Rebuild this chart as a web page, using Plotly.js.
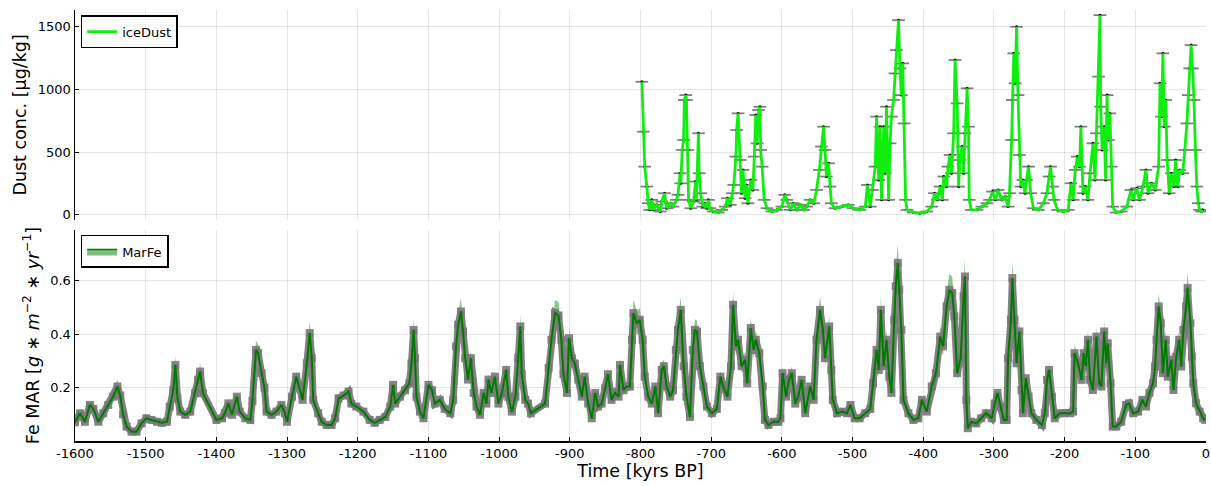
<!DOCTYPE html>
<html>
<head>
<meta charset="utf-8">
<script src="https://cdn.plot.ly/plotly-3.0.1.min.js"></script>
<style>html,body{margin:0;padding:0;background:#fff;}#chart{width:1211px;height:486px;}</style>
</head>
<body>
<div id="chart"></div>
<script>
// ---- iceDust (top panel) ----
const dustAge = [
-798,-796,-794,-791,-789,-787,-784,-782,-777,-772,-770,-766,-763,-758,-754,-749,-747,-744,-743,-741,
-739,-738,-736,-735,-733,-732,-729,-725,-722,-721,-718,-717,-715,-712,-709,-706,-704,-702,-697,-690,
-685,-680,-677,-673,-670,-668,-665,-664,-662,-659,-657,-655,-652,-650,-648,-644,-641,-639,-637,-635,
-633,-631,-630,-628,-625,-621,-614,-607,-600,-596,-593,-588,-584,-579,-574,-569,-565,-560,-555,-551,
-547,-544,-541,-539,-537,-534,-532,-530,-525,-515,-506,-499,-490,-482,-479,-475,-472,-468,-466,-463,
-461,-459,-456,-454,-452,-449,-447,-445,-442,-440,-438,-435,-433,-431,-429,-427,-425,-423,-414,-405,
-395,-388,-384,-380,-376,-373,-371,-367,-365,-362,-360,-357,-355,-352,-350,-348,-345,-343,-341,-338,
-336,-335,-332,-324,-317,-310,-306,-302,-298,-294,-289,-284,-280,-278,-275,-274,-272,-270,-268,-266,
-264,-262,-259,-256,-254,-251,-248,-244,-237,-230,-225,-222,-220,-217,-215,-210,-202,-195,-191,-188,
-185,-182,-179,-177,-174,-171,-167,-164,-160,-157,-155,-152,-150,-149,-147,-144,-142,-140,-138,-136,
-134,-132,-127,-120,-112,-106,-103,-98,-94,-89,-85,-82,-77,-72,-67,-65,-63,-61,-59,-57,
-55,-52,-49,-45,-43,-40,-37,-33,-30,-27,-25,-23,-21,-19,-17,-15,-13,-11,-9,-6,-5
];
const dustConc = [
1062,664,385,226,93,40,120,40,80,27,106,173,53,93,66,120,160,332,252,518,
598,917,956,917,518,120,53,106,266,120,651,332,173,66,93,53,120,53,27,19,
40,66,133,80,173,239,465,677,810,438,173,359,133,239,93,279,199,465,797,571,
837,863,518,385,120,53,27,40,66,160,120,40,93,40,80,40,66,120,93,199,
359,545,704,518,306,412,226,93,53,66,80,53,40,66,239,66,199,385,784,279,
704,120,704,332,863,120,571,784,917,1129,1315,1554,1169,956,1209,730,120,40,19,13,
27,66,173,120,226,120,306,226,385,478,332,651,1236,890,226,438,545,332,651,1010,
704,120,40,40,66,93,120,186,120,199,120,146,66,173,598,917,1289,1050,1501,956,
478,226,279,173,279,385,173,53,40,93,173,306,385,226,120,40,27,40,252,120,
359,465,385,704,173,226,120,332,571,279,651,1103,1594,863,518,704,279,956,598,810,
385,66,19,27,66,199,120,212,120,226,359,173,252,199,385,1050,784,1289,704,917,
438,173,332,226,438,226,359,332,518,730,956,1169,1355,1169,917,518,226,93,40,27,40
];

// ---- MarFe (bottom panel) ----
const marFeAge = [
-1600,-1593,-1586,-1579,-1574,-1567,-1560,-1553,-1546,-1540,
-1536,-1532,-1527,-1520,-1513,-1506,-1499,-1492,-1484,-1477,
-1470,-1466,-1461,-1458,-1455,-1451,-1444,-1437,-1430,-1426,
-1423,-1419,-1400,-1392,-1388,-1383,-1378,-1371,-1367,-1359,
-1352,-1349,-1344,-1341,-1336,-1332,-1329,-1322,-1315,-1308,
-1303,-1300,-1293,-1287,-1283,-1278,-1272,-1268,-1265,-1263,
-1256,-1251,-1244,-1237,-1232,-1227,-1220,-1213,-1209,-1202,
-1192,-1183,-1176,-1169,-1161,-1154,-1150,-1147,-1140,-1133,
-1127,-1124,-1121,-1119,-1117,-1112,-1107,-1100,-1095,-1091,
-1084,-1077,-1069,-1065,-1061,-1058,-1054,-1051,-1048,-1044,
-1040,-1036,-1032,-1027,-1022,-1018,-1015,-1011,-1006,-1001,
-996,-990,-987,-982,-977,-973,-970,-968,-963,-959,
-955,-935,-930,-926,-921,-916,-912,-909,-904,-901,
-897,-893,-888,-883,-879,-874,-869,-864,-860,-855,
-850,-846,-841,-836,-831,-829,-824,-820,-815,-812,
-810,-805,-801,-797,-794,-789,-784,-779,-775,-770,
-767,-763,-758,-754,-750,-747,-743,-739,-735,-730,
-726,-723,-720,-716,-711,-706,-699,-692,-687,-683,
-677,-672,-669,-665,-662,-657,-652,-649,-644,-640,
-637,-632,-627,-624,-619,-612,-605,-602,-599,-594,
-590,-586,-581,-577,-572,-567,-560,-555,-551,-546,
-542,-539,-533,-530,-528,-522,-515,-508,-503,-497,
-490,-482,-475,-471,-466,-463,-460,-456,-452,-448,
-445,-441,-439,-436,-434,-431,-428,-421,-414,-407,
-402,-395,-388,-382,-376,-372,-367,-363,-359,-356,
-352,-347,-343,-341,-339,-337,-332,-325,-318,-311,
-303,-299,-295,-291,-286,-282,-280,-276,-274,-271,
-268,-264,-261,-259,-255,-251,-247,-240,-232,-228,
-225,-222,-218,-214,-207,-200,-192,-188,-186,-181,
-176,-173,-170,-167,-164,-160,-155,-151,-148,-144,
-141,-139,-135,-132,-127,-120,-113,-109,-103,-96,
-90,-85,-80,-75,-72,-70,-67,-64,-61,-57,
-54,-49,-46,-42,-38,-35,-32,-28,-26,-22,
-20,-18,-14,-9,-4,-1
];
const marFeVal = [
0.070,0.104,0.072,0.135,0.120,0.072,0.104,0.135,0.166,0.204,
0.170,0.100,0.054,0.035,0.035,0.066,0.085,0.079,0.072,0.068,
0.072,0.129,0.191,0.285,0.160,0.110,0.098,0.110,0.179,0.229,
0.260,0.179,0.079,0.085,0.104,0.141,0.098,0.166,0.110,0.085,
0.079,0.150,0.341,0.330,0.254,0.200,0.110,0.098,0.110,0.135,
0.104,0.072,0.166,0.241,0.204,0.154,0.291,0.404,0.310,0.154,
0.104,0.072,0.060,0.060,0.085,0.160,0.170,0.185,0.140,0.129,
0.110,0.079,0.068,0.079,0.090,0.129,0.210,0.140,0.166,0.190,
0.216,0.291,0.416,0.310,0.166,0.110,0.085,0.210,0.190,0.140,
0.154,0.120,0.104,0.154,0.354,0.435,0.485,0.410,0.310,0.230,
0.310,0.180,0.129,0.098,0.180,0.140,0.230,0.180,0.241,0.140,
0.180,0.266,0.166,0.110,0.166,0.310,0.429,0.250,0.154,0.140,
0.104,0.140,0.273,0.379,0.479,0.470,0.379,0.250,0.180,0.385,
0.310,0.290,0.230,0.166,0.241,0.140,0.085,0.180,0.129,0.140,
0.197,0.250,0.154,0.180,0.166,0.285,0.190,0.204,0.204,0.379,
0.479,0.440,0.454,0.379,0.241,0.166,0.140,0.204,0.104,0.266,
0.280,0.204,0.166,0.190,0.341,0.416,0.491,0.280,0.166,0.090,
0.341,0.416,0.410,0.280,0.204,0.129,0.104,0.120,0.241,0.204,
0.166,0.280,0.510,0.354,0.379,0.280,0.304,0.216,0.423,0.341,
0.379,0.329,0.204,0.079,0.060,0.072,0.072,0.085,0.254,0.166,
0.229,0.254,0.140,0.166,0.229,0.104,0.204,0.154,0.379,0.491,
0.416,0.310,0.429,0.266,0.154,0.104,0.110,0.104,0.135,0.085,
0.085,0.104,0.120,0.216,0.341,0.266,0.491,0.280,0.379,0.241,
0.180,0.454,0.579,0.667,0.566,0.416,0.154,0.104,0.079,0.085,
0.154,0.110,0.204,0.254,0.391,0.354,0.504,0.566,0.554,0.466,
0.254,0.310,0.541,0.616,0.154,0.048,0.072,0.066,0.085,0.104,
0.085,0.140,0.180,0.129,0.079,0.079,0.310,0.454,0.610,0.454,
0.291,0.410,0.191,0.104,0.235,0.166,0.104,0.079,0.060,0.104,
0.229,0.266,0.166,0.085,0.104,0.104,0.104,0.110,0.329,0.290,
0.229,0.329,0.280,0.379,0.229,0.191,0.391,0.216,0.204,0.410,
0.290,0.366,0.216,0.054,0.054,0.072,0.135,0.141,0.104,0.110,
0.154,0.129,0.180,0.216,0.279,0.379,0.504,0.441,0.254,0.379,
0.241,0.304,0.191,0.316,0.379,0.279,0.416,0.504,0.573,0.441,
0.316,0.216,0.141,0.110,0.085,0.079
];
const marFeErr = [
0.008,0.008,0.008,0.008,0.008,0.008,0.008,0.008,0.018,0.025,
0.018,0.008,0.008,0.008,0.008,0.008,0.008,0.008,0.008,0.008,
0.008,0.010,0.018,0.035,0.018,0.008,0.008,0.008,0.018,0.020,
0.030,0.020,0.012,0.008,0.008,0.010,0.008,0.015,0.008,0.008,
0.008,0.015,0.035,0.030,0.020,0.018,0.008,0.008,0.008,0.008,
0.008,0.008,0.015,0.020,0.018,0.015,0.025,0.045,0.030,0.015,
0.008,0.008,0.008,0.008,0.008,0.015,0.015,0.018,0.010,0.010,
0.008,0.008,0.008,0.008,0.008,0.010,0.020,0.010,0.015,0.018,
0.020,0.025,0.045,0.030,0.015,0.008,0.008,0.020,0.018,0.010,
0.015,0.010,0.008,0.015,0.035,0.045,0.050,0.040,0.030,0.020,
0.030,0.018,0.010,0.008,0.018,0.010,0.020,0.018,0.020,0.010,
0.018,0.025,0.015,0.008,0.015,0.030,0.045,0.020,0.015,0.010,
0.012,0.015,0.025,0.035,0.050,0.050,0.035,0.020,0.018,0.035,
0.030,0.025,0.020,0.015,0.020,0.010,0.008,0.018,0.010,0.010,
0.018,0.025,0.015,0.018,0.015,0.025,0.018,0.018,0.018,0.035,
0.050,0.045,0.045,0.035,0.020,0.015,0.010,0.018,0.008,0.025,
0.025,0.018,0.015,0.018,0.030,0.040,0.050,0.025,0.015,0.008,
0.030,0.040,0.040,0.025,0.018,0.010,0.008,0.010,0.020,0.018,
0.015,0.025,0.050,0.035,0.035,0.025,0.030,0.020,0.040,0.030,
0.035,0.030,0.018,0.008,0.008,0.008,0.008,0.008,0.025,0.015,
0.020,0.025,0.010,0.015,0.020,0.008,0.018,0.015,0.035,0.050,
0.040,0.030,0.040,0.025,0.015,0.008,0.008,0.008,0.010,0.008,
0.008,0.008,0.010,0.020,0.030,0.025,0.050,0.025,0.035,0.020,
0.018,0.045,0.060,0.070,0.060,0.040,0.015,0.008,0.008,0.008,
0.015,0.008,0.018,0.025,0.040,0.035,0.050,0.060,0.060,0.050,
0.025,0.030,0.055,0.065,0.015,0.008,0.008,0.008,0.008,0.008,
0.008,0.010,0.018,0.010,0.008,0.008,0.030,0.045,0.065,0.045,
0.025,0.040,0.018,0.008,0.020,0.015,0.008,0.008,0.008,0.008,
0.020,0.025,0.015,0.008,0.008,0.008,0.008,0.008,0.030,0.025,
0.020,0.030,0.025,0.035,0.020,0.018,0.035,0.020,0.018,0.040,
0.025,0.035,0.020,0.008,0.008,0.008,0.010,0.010,0.008,0.008,
0.015,0.010,0.018,0.020,0.025,0.035,0.050,0.045,0.025,0.035,
0.020,0.030,0.018,0.030,0.035,0.025,0.040,0.050,0.060,0.045,
0.030,0.020,0.010,0.008,0.008,0.008
];

const xTickVals = [-1600,-1500,-1400,-1300,-1200,-1100,-1000,-900,-800,-700,-600,-500,-400,-300,-200,-100,0];
const xTickText = xTickVals.map(String);
const dustTicks = [0,500,1000,1500];
const marFeTicks = [0.2,0.4,0.6];

const lo = marFeVal.map((v,i)=>v-marFeErr[i]);
const hi = marFeVal.map((v,i)=>v+marFeErr[i]);

const FONT = 'DejaVu Sans, Liberation Sans, sans-serif';

const traces = [
  // top: dust with horizontal error bars
  {x: dustAge, y: dustConc, xaxis:'x2', yaxis:'y2', type:'scatter', mode:'markers',
   marker:{size:3, color:'#000'},
   error_x:{type:'constant', value:9, color:'#808080', thickness:1.8, width:0},
   showlegend:false, hoverinfo:'skip'},
  {x: dustAge, y: dustConc, xaxis:'x2', yaxis:'y2', type:'scatter', mode:'lines',
   line:{color:'#10ee10', width:2.8}, name:'iceDust', legend:'legend'},
  // bottom: ribbon
  {x: marFeAge, y: lo, xaxis:'x', yaxis:'y', type:'scatter', mode:'lines',
   line:{width:0, color:'rgba(0,128,0,0)'}, showlegend:false, hoverinfo:'skip'},
  {x: marFeAge, y: hi, xaxis:'x', yaxis:'y', type:'scatter', mode:'lines', fill:'tonexty',
   fillcolor:'rgba(0,128,0,0.45)', line:{width:0, color:'rgba(0,128,0,0)'},
   showlegend:false, hoverinfo:'skip'},
  // legend entry for the ribbon
  {x:[null], y:[null], xaxis:'x', yaxis:'y', type:'scatter', mode:'lines', fill:'toself',
   fillcolor:'rgba(0,128,0,0.5)', line:{width:1.5, color:'#007a00'},
   name:'MarFe', legend:'legend2'},
  // gray halo (markers)
  {x: marFeAge, y: marFeVal, xaxis:'x', yaxis:'y', type:'scatter', mode:'lines+markers',
   line:{color:'rgba(115,115,115,0.9)', width:7},
   marker:{symbol:'square', size:8, color:'rgba(120,120,120,0.9)'},
   showlegend:false, hoverinfo:'skip'},
  {x: marFeAge, y: marFeVal, xaxis:'x', yaxis:'y', type:'scatter', mode:'lines',
   line:{color:'#007a00', width:2}, showlegend:false}
];

const axisCommon = {
  showgrid:true, gridcolor:'rgba(0,0,0,0.1)', gridwidth:1, zeroline:false,
  tickfont:{family:FONT, size:13, color:'#000'}, linecolor:'#000', linewidth:1.5,
  ticks:'inside', ticklen:4, tickcolor:'#000', tickwidth:1
};

const layout = {
  width:1211, height:486,
  margin:{l:75, r:5, t:10, b:45},
  paper_bgcolor:'#fff', plot_bgcolor:'#fff',
  font:{family:FONT, color:'#000'},
  xaxis: Object.assign({}, axisCommon, {
    domain:[0,1], anchor:'y', range:[-1600,0], tickmode:'array',
    tickvals:xTickVals, ticktext:xTickText, showline:true,
    title:{text:'Time [kyrs BP]', font:{family:FONT, size:17.5}, standoff:4}
  }),
  yaxis: Object.assign({}, axisCommon, {
    domain:[0,0.4896], anchor:'x', range:[0,0.79], tickmode:'array',
    tickvals:marFeTicks, ticktext:['0.2','0.4','0.6'], showline:true,
    title:{text:'Fe MAR [<i>g</i> ∗ <i>m</i><sup>−2</sup> ∗ <i>yr</i><sup>−1</sup>]', font:{family:FONT, size:17.5}, standoff:6}
  }),
  xaxis2: Object.assign({}, axisCommon, {
    domain:[0,1], anchor:'y2', range:[-1600,0], tickmode:'array',
    tickvals:xTickVals, showticklabels:false, showline:false, ticks:''
  }),
  yaxis2: Object.assign({}, axisCommon, {
    domain:[0.513,1], anchor:'x2', range:[-40,1635], tickmode:'array',
    tickvals:dustTicks, ticktext:dustTicks.map(String), showline:true,
    title:{text:'Dust conc. [µg/kg]', font:{family:FONT, size:17.5}, standoff:6}
  }),
  legend:{x:0.005, y:0.988, xanchor:'left', yanchor:'top', bgcolor:'#fff',
    bordercolor:'#000', borderwidth:1.5, font:{family:FONT, size:13, color:'#000'}},
  legend2:{x:0.005, y:0.478, xanchor:'left', yanchor:'top', bgcolor:'#fff',
    bordercolor:'#000', borderwidth:1.5, font:{family:FONT, size:13, color:'#000'}}
};

Plotly.newPlot('chart', traces, layout, {displayModeBar:false, staticPlot:true});
</script>
</body>
</html>
